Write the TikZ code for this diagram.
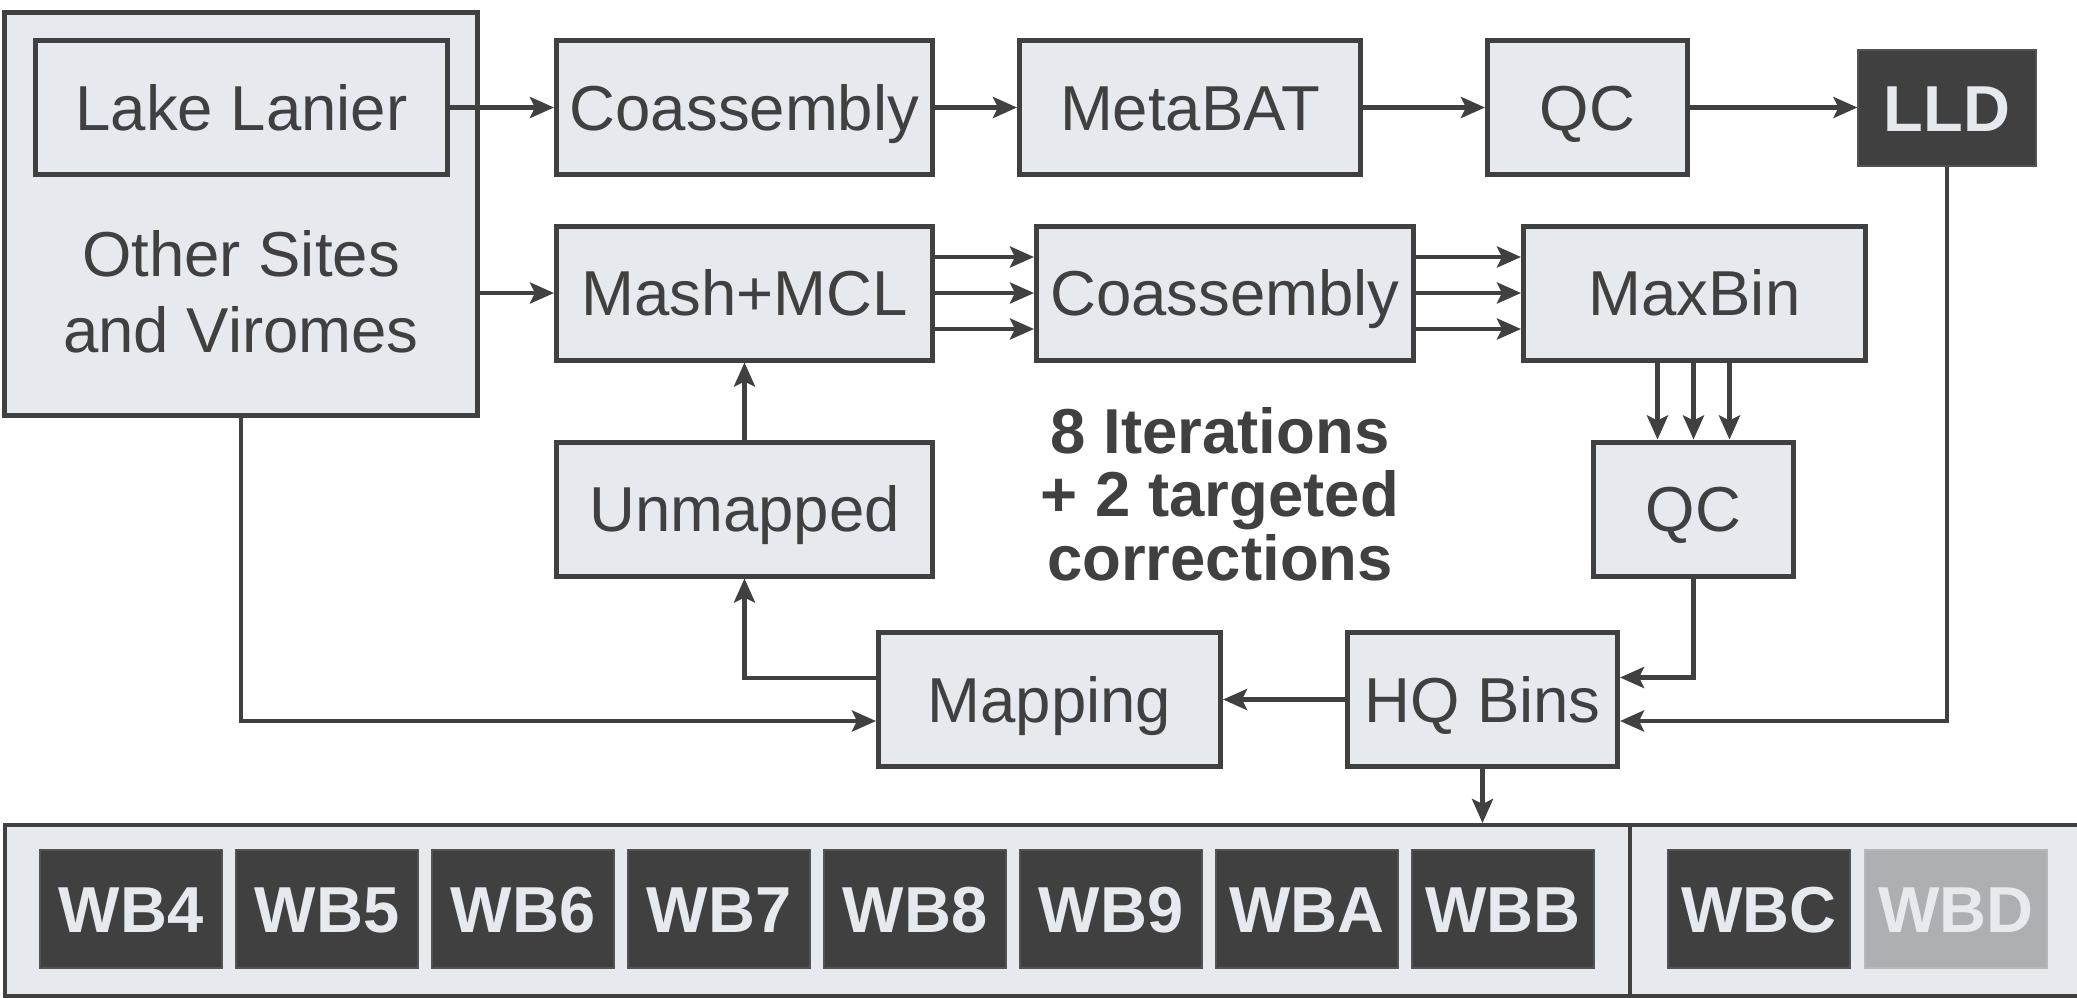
\documentclass[tikz,border=0pt]{standalone}
\usepackage{fontspec}
\setmainfont{Liberation Sans}
\usetikzlibrary{arrows.meta,calc}
\definecolor{fillc}{HTML}{E6E9EE}
\definecolor{linec}{HTML}{404040}
\definecolor{greyc}{HTML}{AEAFB2}
\begin{document}
\begin{tikzpicture}[x=0.5pt,y=-0.5pt,
  every node/.style={font=\fontsize{31.75}{38}\selectfont, text=linec, inner sep=0pt},
  wpx/.style={minimum width={#1*0.5pt}},
  hpx/.style={minimum height={#1*0.5pt}},
  box/.style={draw=linec, line width=2.5pt, fill=fillc, rectangle, text height=22.7pt, text depth=0pt, hpx=134},
  darkbox/.style={draw=linec!90, line width=0.6pt, fill=linec, rectangle, text=fillc,
     font=\fontsize{32.5}{38}\selectfont\bfseries, text height=23.2pt, text depth=0pt},
  greybox/.style={darkbox, draw=greyc!90!white, fill=greyc},
  arr/.style={draw=linec, line width=2.2pt, -{Stealth[length=12pt,width=10.5pt,inset=2.5pt]}},
]
\useasboundingbox (0,0) rectangle (2077,997);
\fill[white] (0,0) rectangle (2077,997);

% left container
\node (big) [draw=linec, line width=2.5pt, fill=fillc, rectangle, wpx=473, hpx=403] at (241,214) {};
\node (lake) [box, wpx=412] at (241.5,107.5) {Lake Lanier};
\node (other) [align=center] at (241,291.5) {Other Sites\\and Viromes};

% top row
\node (coa1) [box, wpx=376] at (744.5,107.5) {Coassembly};
\node (metabat) [box, wpx=341] at (1190,107.5) {MetaBAT};
\node (qc1) [box, wpx=200] at (1587.5,107.5) {QC};
\node (lld) [darkbox, wpx=178, hpx=116] at (1947,108) {LLD};

% second row
\node (mash) [box, wpx=376] at (744.5,293) {Mash+MCL};
\node (coa2) [box, wpx=377] at (1225,293) {Coassembly};
\node (maxbin) [box, wpx=342] at (1694.5,293) {MaxBin};

% third row
\node (unmapped) [box, wpx=376] at (744.5,509) {Unmapped};
\node (qc2) [box, wpx=200] at (1693.5,509) {QC};
\node (iter) [align=center, font=\fontsize{31.75}{31.75}\selectfont\bfseries] at (1220,494)
  {8 Iterations\\+ 2 targeted\\corrections};

% fourth row
\node (mapping) [box, wpx=342] at (1049.5,699.5) {Mapping};
\node (hq) [box, wpx=270] at (1482.5,699.5) {HQ Bins};

% bottom bar
\node (bar) [draw=linec, line width=2pt, fill=fillc, rectangle, anchor=north west, wpx=2120, hpx=171] at (3,823) {};
\coordinate (divtop) at (1630,823);
\draw[draw=linec, line width=2pt] (divtop) -- (divtop |- bar.south);

\foreach \name/\x in {WB4/131,WB5/327,WB6/523,WB7/719,WB8/915,WB9/1111,WBA/1307,WBB/1503,WBC/1759}{
  \node (\name) [darkbox, wpx=182, hpx=118] at (\x,909) {\name};
}
\node (WBD) [greybox, wpx=182, hpx=118] at (1956,909) {WBD};

% connectors, top row
\draw[arr] (lake.east) -- (coa1.west);
\draw[arr] (coa1.east) -- (metabat.west);
\draw[arr] (metabat.east) -- (qc1.west);
\draw[arr] (qc1.east) -- (qc1.east -| lld.west);

% second row
\draw[arr] (big.east |- mash.west) -- (mash.west);
\foreach \d in {-36,0,36}{
  \draw[arr] ($(mash.east)+(0,\d)$) -- ($(coa2.west)+(0,\d)$);
  \draw[arr] ($(coa2.east)+(0,\d)$) -- ($(maxbin.west)+(0,\d)$);
}
\foreach \d [count=\i] in {-36,0,36}{
  \coordinate (m\i) at ($(qc2.north)+(\d,0)$);
  \draw[arr] (m\i |- maxbin.south) -- (m\i);
}

% loop
\draw[arr] (qc2.south) |- ($(hq.east)+(0,-22)$);
\draw[arr] (lld.south) |- ($(hq.east)+(0,21.5)$);
\draw[arr] (hq.west) -- (mapping.east);
\draw[arr] ($(mapping.west)+(0,-21.5)$) -| (unmapped.south);
\draw[arr] (unmapped.north) -- (mash.south);
\draw[arr] (big.south) |- ($(mapping.west)+(0,21.5)$);
\draw[arr] (hq.south) -- (hq.south |- bar.north);
\end{tikzpicture}
\end{document}
